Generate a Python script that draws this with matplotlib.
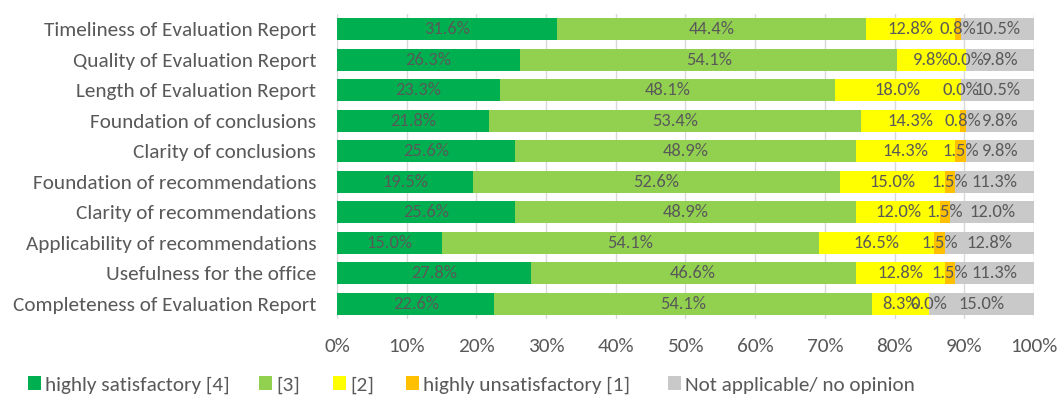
import matplotlib
matplotlib.use("Agg")
import matplotlib.pyplot as plt
import numpy as np
from matplotlib.ticker import PercentFormatter
from matplotlib import font_manager as fm
from matplotlib.textpath import TextPath
from matplotlib.font_manager import FontProperties

categories = [
    "Timeliness of Evaluation Report",
    "Quality of Evaluation Report",
    "Length of Evaluation Report",
    "Foundation of conclusions",
    "Clarity of conclusions",
    "Foundation of recommendations",
    "Clarity of recommendations",
    "Applicability of recommendations",
    "Usefulness for the office",
    "Completeness of Evaluation Report",
]
series_names = ["highly satisfactory [4]", "[3]", "[2]", "highly unsatisfactory [1]", "Not applicable/ no opinion"]
s4 = [31.6, 26.3, 23.3, 21.8, 25.6, 19.5, 25.6, 15.0, 27.8, 22.6]
s3 = [44.4, 54.1, 48.1, 53.4, 48.9, 52.6, 48.9, 54.1, 46.6, 54.1]
s2 = [12.8, 9.8, 18.0, 14.3, 14.3, 15.0, 12.0, 16.5, 12.8, 8.3]
s1 = [0.8, 0.0, 0.0, 0.8, 1.5, 1.5, 1.5, 1.5, 1.5, 0.0]
sna = [10.5, 9.8, 10.5, 9.8, 9.8, 11.3, 12.0, 12.8, 11.3, 15.0]
colors = ["#00B050", "#92D050", "#FFFF00", "#FFC000", "#C9C9C9"]

names = {f.name for f in fm.fontManager.ttflist}
fam = 'Carlito' if 'Carlito' in names else 'Lato'
plt.rcParams['font.family'] = [fam, 'DejaVu Sans']
txt = "#595959"
DPI = 100


def fit_size(s, target_px):
    fp = FontProperties(family=[fam, 'DejaVu Sans'], size=10)
    w = TextPath((0, 0), s, prop=fp).get_extents().width  # in points at size 10
    return 10 * target_px / (w * DPI / 72)


cat_fs = fit_size("Timeliness of Evaluation Report", 273)
lbl_fs = cat_fs * 0.87
leg_fs = fit_size("highly satisfactory [4]", 182)
tick_fs = cat_fs

fig = plt.figure(figsize=(10.58, 3.99), dpi=DPI)
ax = fig.add_axes([0.3185, 0.2005, 0.9773 - 0.3185, 0.965 - 0.2005])

data = np.array([s4, s3, s2, s1, sna])
totals = data.sum(axis=0)
frac = data / totals
y = np.arange(len(categories))
left = np.zeros(len(categories))
handles = []
for i, name in enumerate(series_names):
    w = frac[i]
    bc = ax.barh(y, w, left=left, height=0.72, color=colors[i], label=name, zorder=2)
    handles.append(bc)
    for j in range(len(categories)):
        ax.text(left[j] + w[j] / 2, y[j], f"{data[i, j]:.1f}%", ha="center", va="center",
                fontsize=lbl_fs, color=txt, zorder=3)
    left = left + w

ax.set_xlim(0, 1)
ax.set_ylim(len(categories) - 0.5, -0.5)
ax.set_yticks(y)
ax.set_yticklabels(categories, fontsize=cat_fs, color=txt)
ax.set_xticks(np.linspace(0, 1, 11))
ax.xaxis.set_major_formatter(PercentFormatter(1.0, decimals=0))
ax.tick_params(axis='x', labelsize=tick_fs, colors=txt, length=0, pad=14)
ax.tick_params(axis='y', length=0, pad=15)
for sp in ax.spines.values():
    sp.set_visible(False)
ax.grid(axis='x', color="#D9D9D9", linewidth=1, zorder=0)

# legend entries placed at the reference's positions
leg_x_px = [28, 259, 333, 406, 668]
sq = 13 * 72 / DPI / leg_fs  # marker size in font-size units
for h, name, xp in zip(handles, series_names, leg_x_px):
    lg = fig.legend([h], [name], loc="center left", bbox_to_anchor=(xp / 1058, 1 - 385 / 399),
                    frameon=False, fontsize=leg_fs, handlelength=sq, handleheight=sq,
                    handletextpad=0.2, borderpad=0, borderaxespad=0)
    for t in lg.get_texts():
        t.set_color(txt)

fig.savefig("out.png", dpi=DPI)
